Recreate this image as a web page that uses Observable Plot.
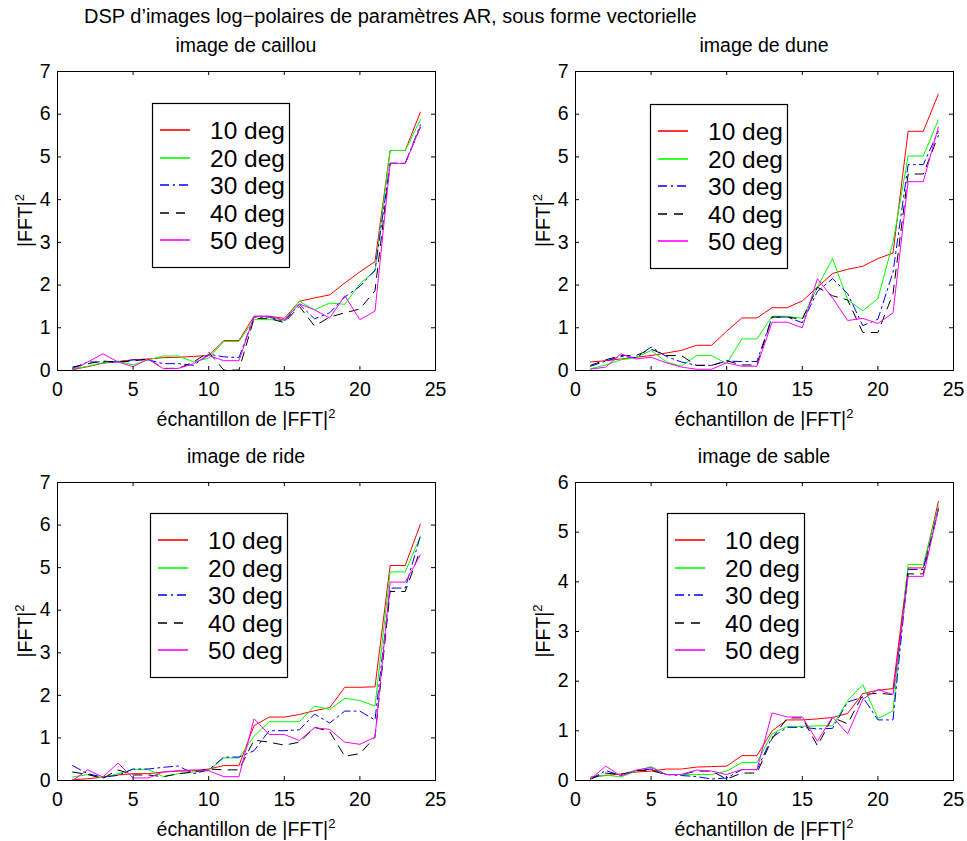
<!DOCTYPE html>
<html>
<head>
<meta charset="utf-8">
<script src="https://cdn.jsdelivr.net/npm/d3@7"></script>
<script src="https://cdn.jsdelivr.net/npm/@observablehq/plot@0.6"></script>
<style>
  html, body { margin: 0; padding: 0; background: #fff; }
  #root { position: relative; width: 967px; height: 841px; overflow: hidden; background: #fff;
          font-family: "Liberation Sans", Arial, Helvetica, sans-serif; }
  .panel { position: absolute; }
  .panel svg text { font-size: 19.5px; font-family: "Liberation Sans", Arial, Helvetica, sans-serif; fill: #000; }
  #overlay { position: absolute; left: 0; top: 0; pointer-events: none; }
</style>
</head>
<body>
<div id="root"></div>
<script>
// ---------------- data ----------------
const samples = [1,2,3,4,5,6,7,8,9,10,11,12,13,14,15,16,17,18,19,20,21,22,23,24];
const seriesNames = ["10 deg","20 deg","30 deg","40 deg","50 deg"];
const seriesColors = ["#ff0000","#00ff00","#0000ff","#000000","#ff00ff"];
const seriesDash = [null, null, "9,4,2,4", "9,7", null];
const xTicks = [0,5,10,15,20,25];
const yTicks7 = [0,1,2,3,4,5,6,7];
const yTicks6 = [0,1,2,3,4,5,6];
const mainTitle = "DSP d’images log−polaires de paramètres AR, sous forme vectorielle";
const panelTitles = ["image de caillou","image de dune","image de ride","image de sable"];
const xLabelText = "échantillon de |FFT|";
const yLabelText = "|FFT|";
const labelExponent = "2";

const caillou10 = [0.02,0.09,0.17,0.21,0.25,0.27,0.30,0.31,0.33,0.35,0.70,0.70,1.27,1.27,1.22,1.62,1.70,1.77,2.05,2.31,2.55,5.15,5.15,6.05];
const caillou20 = [0.03,0.10,0.18,0.22,0.13,0.25,0.34,0.34,0.20,0.29,0.68,0.68,1.19,1.19,1.18,1.62,1.42,1.58,1.55,2.03,2.33,5.15,5.15,5.87];
const caillou30 = [0.05,0.20,0.20,0.20,0.25,0.25,0.16,0.16,0.12,0.38,0.32,0.30,1.25,1.25,1.15,1.55,1.21,1.35,1.72,1.97,2.35,4.85,4.85,5.75];
const caillou40 = [0.08,0.16,0.22,0.20,0.22,0.27,0.05,0.05,0.20,0.43,0.01,0.01,1.22,1.22,1.12,1.50,1.04,1.25,1.35,1.44,1.87,4.85,4.85,5.70];
const caillou50 = [0.00,0.20,0.39,0.20,0.09,0.27,0.04,0.05,0.16,0.35,0.23,0.23,1.27,1.27,1.18,1.56,1.42,1.23,1.75,1.19,1.39,4.85,4.85,5.70];

const dune10 = [0.20,0.23,0.27,0.31,0.35,0.41,0.47,0.59,0.59,0.92,1.23,1.23,1.47,1.47,1.63,1.95,2.27,2.37,2.44,2.62,2.75,5.60,5.60,6.47];
const dune20 = [0.04,0.13,0.25,0.30,0.47,0.20,0.10,0.35,0.35,0.16,0.74,0.74,1.27,1.27,1.22,1.95,2.62,1.65,1.40,1.68,3.00,5.02,5.02,5.87];
const dune30 = [0.10,0.22,0.33,0.30,0.55,0.33,0.20,0.12,0.12,0.22,0.21,0.21,1.25,1.25,1.12,1.85,2.15,1.80,1.05,1.20,2.30,4.82,4.82,5.60];
const dune40 = [0.12,0.25,0.35,0.35,0.50,0.35,0.35,0.12,0.12,0.23,0.13,0.13,1.25,1.25,1.20,1.95,1.75,1.65,0.89,0.89,1.80,4.60,4.60,5.50];
const dune50 = [0.03,0.08,0.39,0.27,0.31,0.18,0.08,0.03,0.03,0.18,0.10,0.10,1.13,1.13,1.00,2.15,1.70,1.17,1.22,1.10,1.35,4.42,4.42,5.70];

const ride10 = [0.02,0.04,0.08,0.13,0.16,0.16,0.20,0.22,0.23,0.27,0.35,0.35,1.29,1.49,1.49,1.55,1.64,1.71,2.19,2.19,2.20,5.05,5.05,6.02];
const ride20 = [0.08,0.14,0.06,0.16,0.26,0.26,0.09,0.16,0.20,0.23,0.53,0.53,1.04,1.38,1.38,1.38,1.75,1.67,1.93,1.88,1.75,4.90,4.90,5.74];
const ride30 = [0.35,0.16,0.08,0.12,0.27,0.27,0.31,0.34,0.16,0.25,0.55,0.55,0.70,1.17,1.17,1.19,1.56,1.35,1.63,1.63,1.42,4.52,4.52,5.74];
const ride40 = [0.20,0.14,0.05,0.25,0.13,0.13,0.09,0.16,0.20,0.27,0.25,0.25,0.95,0.90,0.83,0.90,1.25,1.15,0.57,0.63,1.02,4.44,4.44,5.42];
const ride50 = [0.00,0.25,0.08,0.41,0.06,0.06,0.20,0.23,0.25,0.23,0.09,0.09,1.45,1.08,1.08,0.94,1.24,1.20,0.90,0.85,1.02,4.66,4.66,5.30];

const sable10 = [0.07,0.10,0.13,0.17,0.19,0.23,0.23,0.27,0.28,0.29,0.50,0.50,1.00,1.22,1.22,1.24,1.27,1.35,1.75,1.82,1.85,4.28,4.28,5.62];
const sable20 = [0.05,0.11,0.07,0.19,0.28,0.12,0.12,0.12,0.12,0.19,0.36,0.36,0.94,1.09,1.09,1.10,1.10,1.61,1.93,1.25,1.40,4.35,4.35,5.52];
const sable30 = [0.03,0.20,0.10,0.20,0.23,0.12,0.10,0.08,0.03,0.05,0.22,0.22,0.87,1.07,1.07,1.04,1.05,1.58,1.68,1.22,1.22,4.25,4.25,5.44];
const sable40 = [0.03,0.15,0.12,0.20,0.20,0.12,0.12,0.19,0.19,0.03,0.15,0.15,0.84,1.26,1.26,0.70,1.27,1.14,1.73,1.76,1.73,4.16,4.16,5.47];
const sable50 = [0.03,0.29,0.09,0.21,0.26,0.12,0.12,0.21,0.19,0.12,0.22,0.22,1.36,1.28,1.28,0.79,1.28,0.94,1.64,1.83,1.73,4.11,4.11,5.46];

const panelValues = [
  [caillou10, caillou20, caillou30, caillou40, caillou50],
  [dune10, dune20, dune30, dune40, dune50],
  [ride10, ride20, ride30, ride40, ride50],
  [sable10, sable20, sable30, sable40, sable50]
];
const panelYTicks = [yTicks7, yTicks7, yTicks7, yTicks6];

// ---------------- layout ----------------
const FONT = "'Liberation Sans', Arial, Helvetica, sans-serif";
const layout = [
  {fx: 57,  fy: 71,  fw: 378, fh: 299, lx: 95, ly: 32},
  {fx: 575, fy: 71,  fw: 378, fh: 299, lx: 75, ly: 33},
  {fx: 57,  fy: 482, fw: 378, fh: 298, lx: 93, ly: 31},
  {fx: 575, fy: 482, fw: 378, fh: 298, lx: 92, ly: 31}
];
const ML = 57, MT = 35, MR = 14, MB = 30;

const root = document.getElementById("root");

layout.forEach((L, i) => {
  const yTicks = panelYTicks[i];
  const rows = seriesNames.flatMap((s, j) =>
    samples.map((x, k) => ({series: s, x, y: panelValues[i][j][k]})));
  const lineMarks = seriesNames.map((s, j) =>
    Plot.line(rows.filter(d => d.series === s), {
      x: "x", y: "y", stroke: seriesColors[j], strokeWidth: 1,
      strokeDasharray: seriesDash[j] || undefined, strokeLinejoin: "miter"
    }));
  const chart = Plot.plot({
    width: L.fw + ML + MR,
    height: L.fh + MT + MB,
    marginLeft: ML, marginTop: MT, marginRight: MR, marginBottom: MB,
    style: {fontFamily: FONT, fontSize: "19.5px", color: "#000", background: "transparent", overflow: "visible"},
    x: {domain: [0, 25], ticks: xTicks, tickSize: 0, tickPadding: 12, tickFormat: d => String(d), label: null},
    y: {domain: [0, yTicks[yTicks.length - 1]], ticks: yTicks, tickSize: 0, tickPadding: 7, tickFormat: d => String(d), label: null},
    marks: [
      ...lineMarks,
      Plot.frame({stroke: "#000", strokeWidth: 1}),
      Plot.tickX(xTicks, {x: d => d, insetTop: L.fh - 4, stroke: "#000"}),
      Plot.tickX(xTicks, {x: d => d, insetBottom: L.fh - 4, stroke: "#000"}),
      Plot.tickY(yTicks, {y: d => d, insetRight: L.fw - 4, stroke: "#000"}),
      Plot.tickY(yTicks, {y: d => d, insetLeft: L.fw - 4, stroke: "#000"})
    ]
  });
  const div = document.createElement("div");
  div.className = "panel";
  div.style.left = (L.fx - ML) + "px";
  div.style.top = (L.fy - MT) + "px";
  div.appendChild(chart);
  root.appendChild(div);
});

// ---------------- overlay texts & legends ----------------
const svg = d3.select(root).append("svg")
  .attr("id", "overlay")
  .attr("width", 967).attr("height", 841)
  .style("font-family", FONT);

svg.append("text")
  .attr("x", 84).attr("y", 22.5)
  .attr("font-size", 20)
  .text(mainTitle);

layout.forEach((L, i) => {
  const cx = L.fx + L.fw / 2;
  const cy = L.fy + L.fh / 2;
  // panel title
  svg.append("text")
    .attr("x", cx).attr("y", L.fy - 19)
    .attr("text-anchor", "middle").attr("font-size", 19.5)
    .text(panelTitles[i]);
  // x label
  const xl = svg.append("text")
    .attr("x", cx).attr("y", L.fy + L.fh + 56)
    .attr("text-anchor", "middle").attr("font-size", 19.5);
  xl.append("tspan").text(xLabelText);
  xl.append("tspan").attr("dy", -8).attr("font-size", 13).text(labelExponent);
  // y label
  const yl = svg.append("text")
    .attr("transform", `translate(${L.fx - 25},${cy}) rotate(-90)`)
    .attr("text-anchor", "middle").attr("font-size", 19.5);
  yl.append("tspan").text(yLabelText);
  yl.append("tspan").attr("dy", -8).attr("font-size", 13).text(labelExponent);

  // legend
  const bx = L.fx + L.lx, by = L.fy + L.ly;
  const g = svg.append("g").attr("transform", `translate(${bx},${by})`);
  g.append("rect").attr("x", 0.5).attr("y", 0.5).attr("width", 137).attr("height", 164)
    .attr("fill", "#fff").attr("stroke", "#000").attr("stroke-width", 1.2);
  seriesNames.forEach((s, j) => {
    const ry = Math.round(27 + j * 27.5);
    g.append("line").attr("x1", 8).attr("x2", 38).attr("y1", ry).attr("y2", ry)
      .attr("stroke", seriesColors[j]).attr("stroke-width", 1.6)
      .attr("stroke-dasharray", seriesDash[j] || null);
    g.append("text").attr("x", 58).attr("y", ry + 8.5)
      .attr("font-size", 24.5).text(s);
  });
});
</script>
</body>
</html>
